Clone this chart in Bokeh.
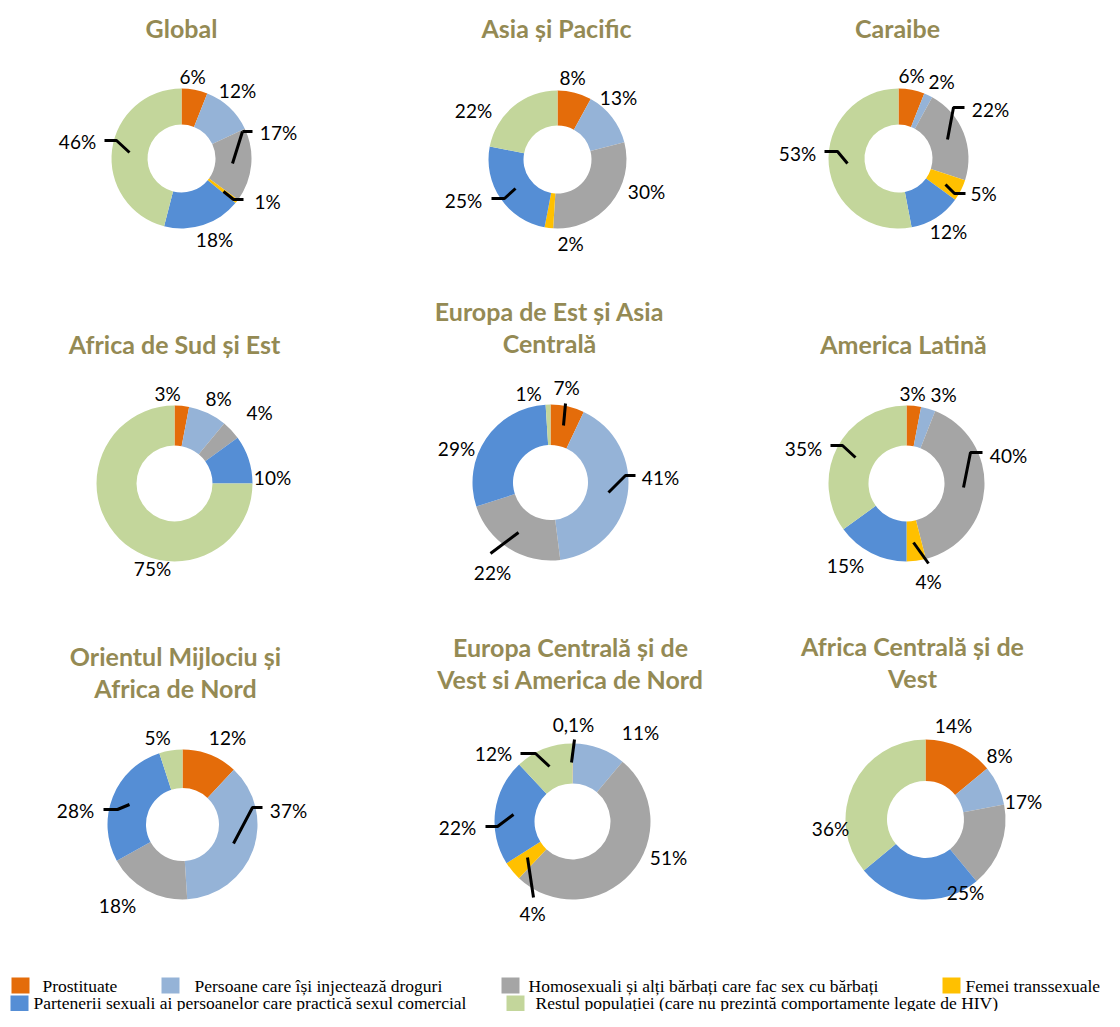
import numpy as np
from bokeh.plotting import figure
from bokeh.models import Range1d, ColumnDataSource
from bokeh.core.properties import value
from bokeh.embed import file_html
from bokeh.resources import INLINE

# ---------------- data ----------------
categories = [
    "Prostituate",
    "Persoane care își injectează droguri",
    "Homosexuali și alți bărbați care fac sex cu bărbați",
    "Femei transsexuale",
    "Partenerii sexuali ai persoanelor care practică sexul comercial",
    "Restul populației (care nu prezintă comportamente legate de HIV)",
]
colors = ["#E46C0A", "#95B3D7", "#A5A5A5", "#FFC000", "#558ED5", "#C3D69B"]

regions = [
    "Global", "Asia și Pacific", "Caraibe",
    "Africa de Sud și Est", "Europa de Est și Asia Centrală", "America Latină",
    "Orientul Mijlociu și Africa de Nord",
    "Europa Centrală și de Vest si America de Nord",
    "Africa Centrală și de Vest",
]
global_vals = [6, 12, 17, 1, 18, 46]
asia_pacific = [8, 13, 30, 2, 25, 22]
caraibe = [6, 2, 22, 5, 12, 53]
africa_sud_est = [3, 8, 4, 0, 10, 75]
europa_est_asia_centrala = [7, 41, 22, 0, 29, 1]
america_latina = [3, 3, 40, 4, 15, 35]
orientul_mijlociu_africa_nord = [12, 37, 18, 0, 28, 5]
europa_centrala_vest_america_nord = [0.1, 11, 51, 4, 22, 12]
africa_centrala_vest = [14, 8, 17, 0, 25, 36]
series = [global_vals, asia_pacific, caraibe, africa_sud_est,
          europa_est_asia_centrala, america_latina,
          orientul_mijlociu_africa_nord, europa_centrala_vest_america_nord,
          africa_centrala_vest]

# ---------------- layout (picture pixels, origin top-left) ----------------
title_lines = [["Global"], ["Asia și Pacific"], ["Caraibe"],
               ["Africa de Sud și Est"], ["Europa de Est și Asia", "Centrală"], ["America Latină"],
               ["Orientul Mijlociu și", "Africa de Nord"],
               ["Europa Centrală și de", "Vest si America de Nord"],
               ["Africa Centrală și de", "Vest"]]
title_pos = [(181, 27), (556, 27), (897, 27),
             (174, 343), (549, 310), (903, 343),
             (175, 655), (570, 646), (912, 645)]
centers = [(181, 158), (557, 159), (898, 158),
           (174, 483), (550, 482), (906, 483),
           (182, 824), (572, 821), (925, 819)]
outer_r = [70, 69, 70, 78, 78, 78, 75, 78, 80]
inner_r = [34, 34, 34, 38, 37.5, 38, 36.5, 38, 38.5]
label_pos = [
    [(192, 76), (237, 90), (278, 132), (267, 201), (214, 239), (77, 141)],
    [(572, 77), (618, 97), (646, 191), (570, 243), (463, 200), (473, 110)],
    [(911, 75), (941, 81), (990, 109), (983, 193), (948, 231), (797, 153)],
    [(167, 393), (218, 398), (259, 412), None, (272, 477), (152, 568)],
    [(566, 387), (660, 477), (492, 572), None, (456, 448), (528, 393)],
    [(912, 393), (943, 394), (1008, 455), (928, 581), (845, 565), (803, 448)],
    [(227, 737), (288, 810), (117, 905), None, (75, 810), (157, 737)],
    [(573, 724), (640, 732), (668, 857), (532, 913), (457, 827), (493, 753)],
    [(953, 725), (999, 755), (1023, 801), None, (965, 892), (830, 828)],
]
leaders = [
    [[(242, 131), (252, 131)], [(242, 131), (232, 163)],
     [(223, 191), (233, 199), (243, 199)], [(104, 140), (116, 140), (129, 152)]],
    [[(491, 198), (504, 198), (515, 188)]],
    [[(964, 107), (953, 107), (947, 139)], [(945, 184), (954, 193), (965, 193)],
     [(824, 151), (837, 151), (847, 163)]],
    [],
    [[(565, 403), (563, 425)], [(635, 475), (625, 475), (608, 492)], [(518, 532), (490, 553)]],
    [[(982, 452), (970, 452), (963, 487)], [(913, 542), (928, 563)],
     [(830, 445), (842, 445), (855, 457)]],
    [[(262, 807), (252, 807), (233, 843)], [(103, 809), (117, 809), (129, 804)]],
    [[(574, 739), (571, 762)], [(520, 753), (535, 753), (549, 766)],
     [(485, 826), (497, 826), (513, 814)], [(527, 857), (533, 897)]],
    [],
]
legend_sq = [(20, 985), (170, 985), (510, 985), (951, 985), (19, 1003), (515, 1003)]
legend_txt = [(42, 985), (194, 985), (528, 985), (965, 985), (33, 1002), (535, 1002)]

W, H = 1104, 1011


def Y(y):
    return H - y


p = figure(width=W, height=H, output_backend="svg", toolbar_location=None,
           x_range=Range1d(0, W), y_range=Range1d(0, H), min_border=0)
p.axis.visible = False
p.grid.visible = False
p.outline_line_color = None
p.background_fill_color = "white"
p.border_fill_color = "white"


def fmt(v):
    return f"{v:g}".replace(".", ",") + "%"


for i, vals in enumerate(series):
    v = np.array(vals, dtype=float)
    cum = np.concatenate([[0], np.cumsum(v)]) / v.sum()
    start = np.pi / 2 - 2 * np.pi * cum[:-1]
    end = np.pi / 2 - 2 * np.pi * cum[1:]
    keep = v > 0
    cx, cy = centers[i]
    n = int(keep.sum())
    src = ColumnDataSource(dict(x=[cx] * n, y=[Y(cy)] * n,
                                start=start[keep], end=end[keep],
                                color=[c for c, k in zip(colors, keep) if k]))
    p.annular_wedge(x="x", y="y", inner_radius=inner_r[i], outer_radius=outer_r[i],
                    start_angle="start", end_angle="end", direction="clock",
                    fill_color="color", line_color=None, source=src)
    # labels
    lx, ly, lt = [], [], []
    for k, val in enumerate(vals):
        if val > 0 and label_pos[i][k] is not None:
            lx.append(label_pos[i][k][0])
            ly.append(Y(label_pos[i][k][1]))
            lt.append(fmt(val))
    p.text(x=lx, y=ly, text=lt, text_font=value("Lato"), text_font_size="19px",
           text_color="#000000", text_align="center", text_baseline="middle")
    # leader lines
    if leaders[i]:
        p.multi_line(xs=[[pt[0] for pt in seg] for seg in leaders[i]],
                     ys=[[Y(pt[1]) for pt in seg] for seg in leaders[i]],
                     line_color="black", line_width=3)
    # title
    tx, ty = title_pos[i]
    for j, line in enumerate(title_lines[i]):
        p.text(x=[tx], y=[Y(ty + 32 * j)], text=[line], text_font=value("Lato"),
               text_font_size="25px", text_font_style="bold", text_color="#948A54",
               text_align="center", text_baseline="middle")

# legend
p.rect(x=[s[0] for s in legend_sq], y=[Y(s[1]) for s in legend_sq], width=18, height=16,
       fill_color=colors, line_color=None)
p.text(x=[t[0] for t in legend_txt], y=[Y(t[1]) for t in legend_txt], text=categories,
       text_font=value("Liberation Serif"), text_font_size="17.5px", text_color="#000000",
       text_align="left", text_baseline="middle")

open("out.html", "w").write(file_html(p, INLINE))
